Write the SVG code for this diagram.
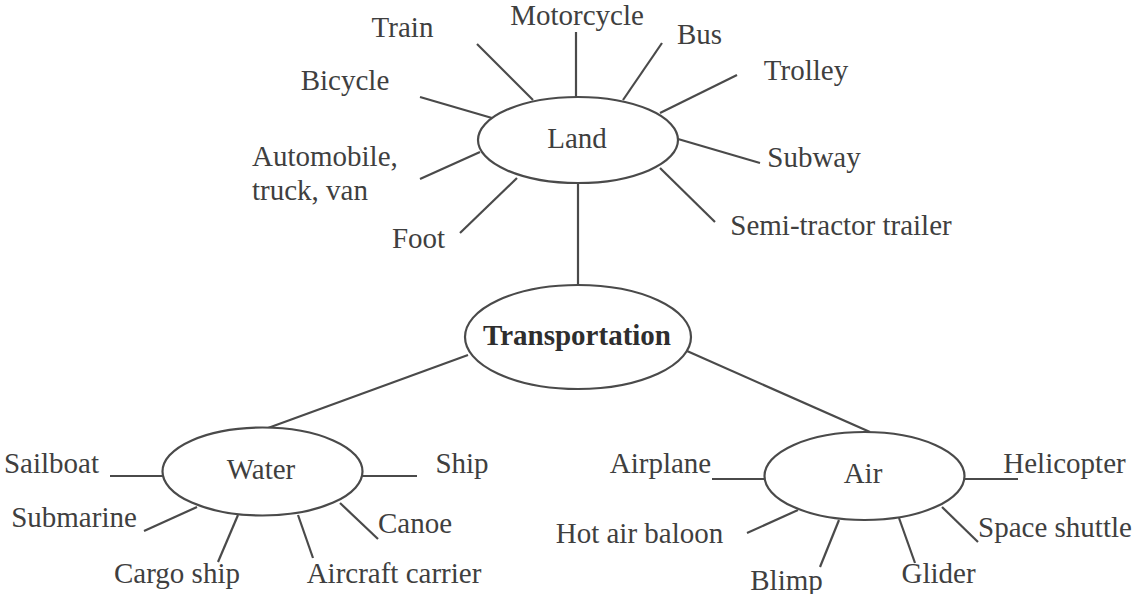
<svg xmlns="http://www.w3.org/2000/svg" width="1135" height="594" viewBox="0 0 1135 594">
<style>
.n{fill:#fff;stroke:#4a4a4a;stroke-width:2.2}
.c line{stroke:#4a4a4a;stroke-width:2.2}
text{font-family:"Liberation Serif","Times New Roman",serif;font-size:29px;fill:#3f3f3f;text-anchor:middle}
.s{text-anchor:start}
.b{font-weight:bold;fill:#2e2e2e}
</style>
<rect width="1135" height="594" fill="#fff"/>
<g class="c" id="connectors">
<line x1="578" y1="184" x2="578" y2="285"/>
<line x1="468" y1="355" x2="268" y2="428"/>
<line x1="687" y1="351" x2="870" y2="432"/>
<line x1="477" y1="44" x2="533" y2="100"/>
<line x1="576" y1="32" x2="576" y2="97"/>
<line x1="662" y1="43" x2="623" y2="100"/>
<line x1="737" y1="75" x2="660" y2="113"/>
<line x1="678" y1="139" x2="760" y2="163"/>
<line x1="660" y1="168" x2="715" y2="222"/>
<line x1="420" y1="97" x2="492" y2="118"/>
<line x1="420" y1="179" x2="480" y2="152"/>
<line x1="460" y1="233" x2="517" y2="178"/>
<line x1="110" y1="476" x2="163" y2="476"/>
<line x1="362" y1="476" x2="417" y2="476"/>
<line x1="144" y1="531" x2="197" y2="507"/>
<line x1="218" y1="562" x2="238" y2="515"/>
<line x1="298" y1="515" x2="313" y2="558"/>
<line x1="340" y1="503" x2="378" y2="539"/>
<line x1="712" y1="479" x2="765" y2="479"/>
<line x1="964" y1="479" x2="1018" y2="479"/>
<line x1="747" y1="533" x2="798" y2="510"/>
<line x1="820" y1="567" x2="839" y2="520"/>
<line x1="899" y1="518" x2="915" y2="563"/>
<line x1="942" y1="507" x2="978" y2="542"/>
</g>
<g id="land">
<ellipse class="n" cx="578" cy="140" rx="100" ry="43"/>
<text x="577" y="148">Land</text>
</g>
<g id="transportation">
<ellipse class="n" cx="578" cy="337" rx="113" ry="52"/>
<text class="b" x="577" y="345">Transportation</text>
</g>
<g id="water">
<ellipse class="n" cx="262.5" cy="471.5" rx="100" ry="44"/>
<text x="261" y="479">Water</text>
</g>
<g id="air">
<ellipse class="n" cx="864.5" cy="476" rx="100" ry="44"/>
<text x="863" y="483">Air</text>
</g>
<g id="land-labels">
<text x="402.5" y="37">Train</text>
<text x="577" y="25">Motorcycle</text>
<text x="699.5" y="44">Bus</text>
<text x="806" y="80">Trolley</text>
<text x="814" y="167">Subway</text>
<text x="841" y="235">Semi-tractor trailer</text>
<text x="345" y="90">Bicycle</text>
<text class="s" x="252" y="166">Automobile,</text>
<text class="s" x="252" y="200">truck, van</text>
<text x="418.5" y="248">Foot</text>
</g>
<g id="water-labels">
<text x="51.5" y="473">Sailboat</text>
<text x="462" y="473">Ship</text>
<text x="74" y="527">Submarine</text>
<text x="415" y="533">Canoe</text>
<text x="177" y="583">Cargo ship</text>
<text x="394" y="583">Aircraft carrier</text>
</g>
<g id="air-labels">
<text x="660.5" y="473">Airplane</text>
<text x="639.5" y="543">Hot air baloon</text>
<text x="786.5" y="590">Blimp</text>
<text x="938.5" y="583">Glider</text>
<text x="1055" y="537">Space shuttle</text>
<text x="1064.5" y="473">Helicopter</text>
</g>
</svg>
